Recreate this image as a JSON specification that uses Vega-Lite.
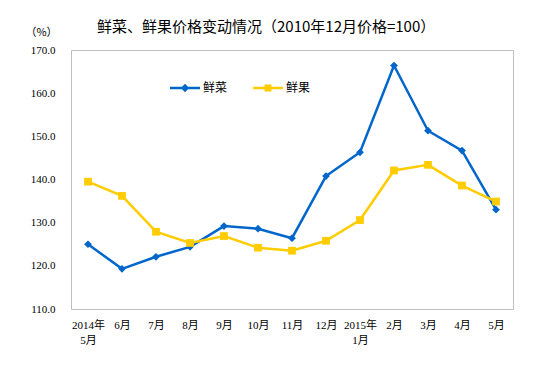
{
  "$schema": "https://vega.github.io/schema/vega-lite/v6.json",
  "width": 442,
  "height": 259,
  "autosize": {"type": "none"},
  "padding": {"left": 71, "top": 50, "right": 38, "bottom": 69},
  "background": "white",
  "config": {
    "view": {"stroke": "#BFBFBF", "strokeWidth": 1},
    "font": "Liberation Serif"
  },
  "title": {
    "text": "鲜菜、鲜果价格变动情况（2010年12月价格=100）",
    "font": "Noto Sans CJK SC",
    "fontSize": 15,
    "fontWeight": "normal",
    "color": "#000000",
    "anchor": "start",
    "frame": "group",
    "dx": 26,
    "offset": -9
  },
  "data": {
    "values": [
      {"month": "2014年|5月", "series": "鲜菜", "value": 125.0},
      {"month": "6月", "series": "鲜菜", "value": 119.3},
      {"month": "7月", "series": "鲜菜", "value": 122.1},
      {"month": "8月", "series": "鲜菜", "value": 124.4},
      {"month": "9月", "series": "鲜菜", "value": 129.2},
      {"month": "10月", "series": "鲜菜", "value": 128.6},
      {"month": "11月", "series": "鲜菜", "value": 126.4},
      {"month": "12月", "series": "鲜菜", "value": 140.8},
      {"month": "2015年|1月", "series": "鲜菜", "value": 146.3},
      {"month": "2月", "series": "鲜菜", "value": 166.4},
      {"month": "3月", "series": "鲜菜", "value": 151.3},
      {"month": "4月", "series": "鲜菜", "value": 146.7},
      {"month": "5月", "series": "鲜菜", "value": 133.0},
      {"month": "2014年|5月", "series": "鲜果", "value": 139.5},
      {"month": "6月", "series": "鲜果", "value": 136.2},
      {"month": "7月", "series": "鲜果", "value": 127.9},
      {"month": "8月", "series": "鲜果", "value": 125.3},
      {"month": "9月", "series": "鲜果", "value": 126.9},
      {"month": "10月", "series": "鲜果", "value": 124.2},
      {"month": "11月", "series": "鲜果", "value": 123.5},
      {"month": "12月", "series": "鲜果", "value": 125.8},
      {"month": "2015年|1月", "series": "鲜果", "value": 130.6},
      {"month": "2月", "series": "鲜果", "value": 142.1},
      {"month": "3月", "series": "鲜果", "value": 143.4},
      {"month": "4月", "series": "鲜果", "value": 138.6},
      {"month": "5月", "series": "鲜果", "value": 134.9}
    ]
  },
  "encoding": {
    "x": {
      "field": "month",
      "type": "ordinal",
      "sort": null,
      "scale": {"type": "point", "padding": 0.5},
      "axis": {
        "title": null,
        "labelAngle": 0,
        "labelExpr": "split(datum.value, '|')",
        "labelFont": "Liberation Serif, Noto Sans CJK SC",
        "labelFontSize": 11,
        "labelColor": "#000000",
        "labelPadding": 10,
        "labelLineHeight": 15,
        "ticks": false,
        "domain": false,
        "grid": false
      }
    },
    "y": {
      "field": "value",
      "type": "quantitative",
      "scale": {"domain": [110, 170], "nice": false, "zero": false},
      "axis": {
        "values": [110, 120, 130, 140, 150, 160, 170],
        "format": ".1f",
        "title": "（%）",
        "titleAngle": 0,
        "titleX": -30,
        "titleY": -18,
        "titleAlign": "center",
        "titleBaseline": "middle",
        "titleFont": "Noto Sans CJK SC",
        "titleFontSize": 11,
        "titleFontWeight": "normal",
        "titleColor": "#000000",
        "labelFont": "Liberation Serif",
        "labelFontSize": 11,
        "labelColor": "#000000",
        "labelPadding": 16,
        "ticks": false,
        "domain": false,
        "grid": false
      }
    }
  },
  "layer": [
    {
      "mark": {"type": "line", "strokeWidth": 2.5},
      "encoding": {
        "color": {
          "field": "series",
          "type": "nominal",
          "scale": {"domain": ["鲜菜", "鲜果"], "range": ["#0066CC", "#FFCC00"]},
          "legend": null
        }
      }
    },
    {
      "mark": {"type": "point", "filled": true, "size": 60, "opacity": 1},
      "encoding": {
        "color": {
          "field": "series",
          "type": "nominal",
          "scale": {"domain": ["鲜菜", "鲜果"], "range": ["#0066CC", "#FFCC00"]},
          "legend": null
        },
        "shape": {
          "field": "series",
          "type": "nominal",
          "scale": {"domain": ["鲜菜", "鲜果"], "range": ["diamond", "square"]},
          "legend": null
        }
      }
    },
    {
      "transform": [{"filter": "false"}],
      "mark": {"type": "point", "filled": true, "size": 900, "opacity": 1},
      "encoding": {
        "color": {
          "field": "series",
          "type": "nominal",
          "scale": {"domain": ["鲜菜", "鲜果"], "range": ["#0066CC", "#FFCC00"]},
          "legend": {
            "title": null,
            "orient": "none",
            "direction": "horizontal",
            "legendX": 99,
            "legendY": 23,
            "padding": 0,
            "columnPadding": 25,
            "labelOffset": 3,
            "labelFont": "Noto Sans CJK SC",
            "labelFontSize": 12,
            "labelColor": "#000000",
            "symbolSize": 900,
            "symbolStrokeWidth": 0
          }
        },
        "shape": {
          "field": "series",
          "type": "nominal",
          "scale": {
            "domain": ["鲜菜", "鲜果"],
            "range": [
              "M-1,-0.08H1V0.08H-1Z M0,-0.28L0.28,0L0,0.28L-0.28,0Z",
              "M-1,-0.08H1V0.08H-1Z M-0.23,-0.23H0.23V0.23H-0.23Z"
            ]
          },
          "legend": {
            "title": null,
            "orient": "none",
            "direction": "horizontal",
            "legendX": 99,
            "legendY": 23,
            "padding": 0,
            "columnPadding": 25,
            "labelOffset": 3,
            "labelFont": "Noto Sans CJK SC",
            "labelFontSize": 12,
            "labelColor": "#000000",
            "symbolSize": 900,
            "symbolStrokeWidth": 0
          }
        }
      }
    }
  ],
  "resolve": {"scale": {"shape": "independent", "color": "independent"}}
}
